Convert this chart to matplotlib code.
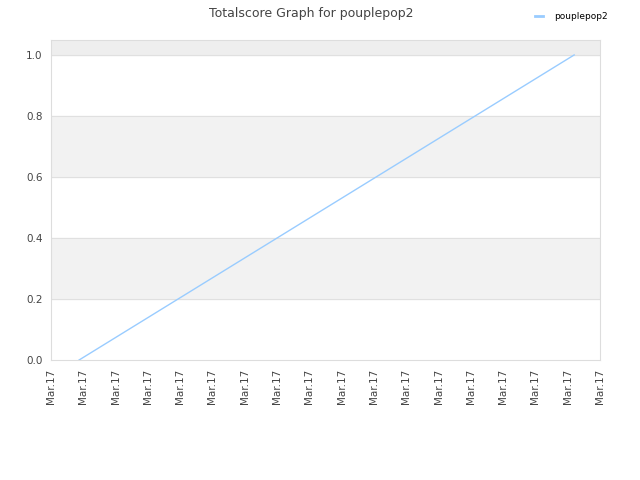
import matplotlib.pyplot as plt

# data (x in tick units along the date axis)
x_vals = [0.87, 16.2]
y_vals = [0.0, 1.0]
tick_labels = ["Mar.17"] * 18
y_ticks = [0.0, 0.2, 0.4, 0.6, 0.8, 1.0]
bands = [(0.2, 0.4), (0.6, 0.8)]

fig = plt.figure(figsize=(6.4, 4.8), dpi=100)
ax = fig.add_axes([51 / 640, 1 - 360 / 480, 549 / 640, 320 / 480])

ax.set_xlim(0, 17)
ax.set_ylim(0, 1.049)

for lo, hi in bands:
    ax.axhspan(lo, hi, color="#f2f2f2", zorder=0)
ax.axhspan(1.0, 1.049, color="#eeeeee", zorder=0)
for y in y_ticks[1:]:
    ax.axhline(y, color="#e0e0e0", lw=0.8, zorder=1)

ax.plot(x_vals, y_vals, color="#99ccff", lw=1, label="pouplepop2", zorder=3)

ax.set_xticks(range(18))
ax.set_xticklabels(tick_labels, rotation=90, fontsize=7.5, color="#444444")
ax.set_yticks(y_ticks)
ax.set_yticklabels(["%.1f" % v for v in y_ticks], fontsize=7.5, color="#444444")
ax.tick_params(length=0, pad=6)

for s in ax.spines.values():
    s.set_color("#dddddd")

fig.text(0.486, 0.985, "Totalscore Graph for pouplepop2", ha="center", va="top",
         fontsize=9, color="#444444")
leg = fig.legend(loc="upper right", bbox_to_anchor=(0.962, 0.992), frameon=False,
                 fontsize=6.5, handlelength=0.9, handletextpad=1.2)
for h in leg.get_lines():
    h.set_linewidth(2)

fig.savefig("out.png")
